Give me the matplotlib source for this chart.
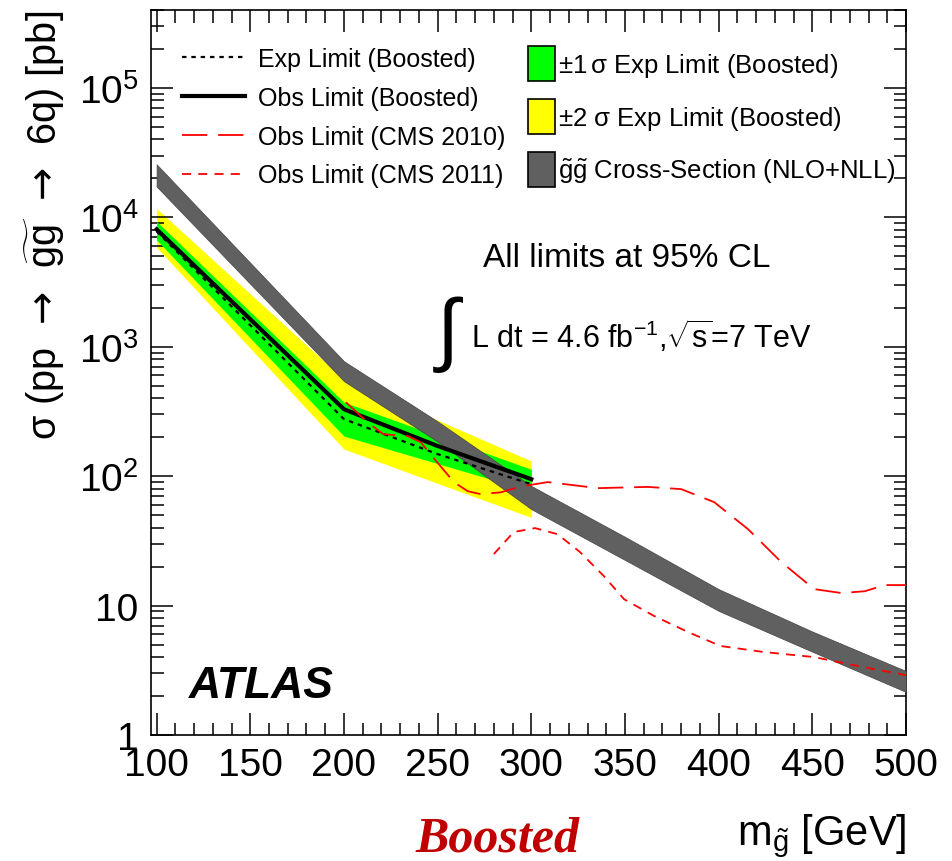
import matplotlib
matplotlib.use("Agg")
import matplotlib.pyplot as plt
from matplotlib.lines import Line2D
from matplotlib.patches import Patch
from matplotlib.ticker import MultipleLocator, LogLocator, FixedLocator, FixedFormatter, NullFormatter

plt.rcParams['font.family'] = ['Liberation Sans', 'DejaVu Sans']
plt.rcParams['mathtext.fontset'] = 'custom'
plt.rcParams['mathtext.rm'] = 'Liberation Sans'
plt.rcParams['mathtext.it'] = 'Liberation Sans:italic'
plt.rcParams['mathtext.bf'] = 'Liberation Sans:bold'
plt.rcParams['mathtext.sf'] = 'DejaVu Sans'

# gluino pair cross-section band (NLO+NLL)
mass_xs = [100, 200, 250, 300, 350, 400, 450, 500]
xs_hi = [25700, 773, 265, 84, 34, 13.4, 6.3, 3.12]
xs_lo = [17300, 542, 185, 55.6, 22.5, 9.1, 4.4, 2.15]

# boosted limits
mass_lim = [100, 200, 250, 300]
obs_lim = [8080, 329, 171, 94.8]
exp_lim = [7800, 276, 148, 86.7]
sig1_hi = [9310, 373, 205, 113]
sig1_lo = [6680, 204, 125, 76.6]
sig2_hi = [11700, 561, 271, 131]
sig2_lo = [5850, 162, 88, 48]

# CMS limits
cms10_m = [201, 212.6, 221, 234, 241, 251.6, 258.7, 266, 273, 283.7, 294, 308.8,
           335.5, 362, 380, 397.6, 415.7, 433.4, 451, 465.5, 478, 488.5, 500]
cms10_y = [373, 261, 211, 204, 183, 119, 90, 76.6, 72.6, 75, 83, 90,
           80.8, 82.6, 79.4, 63, 38.9, 21.7, 13.4, 12.5, 12.9, 14.4, 14.4]
cms11_m = [280, 290.6, 302, 314, 326, 338.7, 349.5, 365.6, 383.7, 401, 424.4, 451, 469, 500]
cms11_y = [25, 37, 39.7, 35.6, 25.9, 16.9, 11.2, 8.3, 6.24, 4.87, 4.37, 4.0, 3.53, 2.9]

ytick_vals = [1, 10, 100, 1e3, 1e4, 1e5]
ytick_labels = ['1', '10', '$10^2$', '$10^3$', '$10^4$', '$10^5$']

fig = plt.figure(figsize=(9.52, 8.62), dpi=100)
ax = fig.add_axes([0.1586, 0.1462, 0.7931, 0.8410])
ax.set_yscale('log')
ax.set_xlim(97, 500)
ax.set_ylim(1, 4e5)

ax.fill_between(mass_lim, sig2_lo, sig2_hi, color='#ffff00', lw=0, zorder=1)
ax.fill_between(mass_lim, sig1_lo, sig1_hi, color='#00ff00', lw=0, zorder=2)
ax.fill_between(mass_xs, xs_lo, xs_hi, color='#606060', lw=0.5, edgecolor='#444444', zorder=3)
ax.plot(mass_lim, obs_lim, color='black', lw=3, zorder=4)
ax.plot(mass_lim, exp_lim, color='black', lw=1.6, dashes=(2, 2.2), zorder=4)
ax.plot(cms10_m, cms10_y, color='red', lw=1.3, dashes=(14, 6), zorder=5)
ax.plot(cms11_m, cms11_y, color='red', lw=1.3, dashes=(5, 4), zorder=5)

# ticks
ax.xaxis.set_major_locator(MultipleLocator(50))
ax.xaxis.set_minor_locator(MultipleLocator(10))
ax.yaxis.set_major_locator(FixedLocator(ytick_vals))
ax.yaxis.set_major_formatter(FixedFormatter(ytick_labels))
ax.yaxis.set_minor_locator(LogLocator(base=10, subs=range(2, 10)))
ax.yaxis.set_minor_formatter(NullFormatter())
ax.tick_params(which='both', direction='in', top=True, right=True, width=1.1, labelsize=28)
ax.tick_params(which='major', length=16)
ax.tick_params(which='minor', length=9)
ax.tick_params(axis='x', pad=9)
ax.tick_params(axis='y', pad=9)
for s in ax.spines.values():
    s.set_linewidth(1.2)

ax.set_ylabel(r'$\mathregular{\sigma}$ (pp $\,\mathsf{\rightarrow}\,$ $\widetilde{\mathregular{gg}}$ '
              r'$\,\mathsf{\rightarrow}\,$ 6q) [pb]',
              fontsize=28.5, loc='top', labelpad=8)
ax.set_xlabel(r'm$_{\tilde{\mathregular{g}}}$ [GeV]', fontsize=30, loc='right', labelpad=20)

# legends
h1 = [Line2D([], [], color='black', lw=1.6, dashes=(2, 2.2)),
      Line2D([], [], color='black', lw=3),
      Line2D([], [], color='red', lw=1.3, dashes=(14, 6)),
      Line2D([], [], color='red', lw=1.3, dashes=(5, 4))]
l1 = ['Exp Limit (Boosted)', 'Obs Limit (Boosted)', 'Obs Limit (CMS 2010)', 'Obs Limit (CMS 2011)']
leg1 = ax.legend(h1, l1, loc='upper left', bbox_to_anchor=(0.041, 0.949), frameon=False,
                 fontsize=18, handlelength=2.52, handletextpad=0.52, labelspacing=0.59,
                 borderpad=0, borderaxespad=0)
ax.add_artist(leg1)
h2 = [Patch(facecolor='#00ff00', edgecolor='black', lw=1.2),
      Patch(facecolor='#ffff00', edgecolor='black', lw=1.2),
      Patch(facecolor='#606060', edgecolor='black', lw=1.2)]
l2 = [r'$\pm$1$\,\mathregular{\sigma}$ Exp Limit (Boosted)',
      r'$\pm$2 $\mathregular{\sigma}$ Exp Limit (Boosted)',
      r'$\tilde{\mathregular{g}}\tilde{\mathregular{g}}$ Cross-Section (NLO+NLL)']
ax.legend(h2, l2, loc='upper left', bbox_to_anchor=(0.4993, 0.950), frameon=False,
          fontsize=18.5, handlelength=1.05, handleheight=1.72, handletextpad=0.12,
          labelspacing=0.7, borderpad=0, borderaxespad=0)

ax.text(0.44, 0.647, 'All limits at 95% CL', transform=ax.transAxes, fontsize=24, va='baseline')
ax.text(0.378, 0.524, '\u222b', transform=ax.transAxes, fontsize=58, va='baseline')
ax.text(0.424, 0.535, r'L dt = 4.6 fb$^{\mathregular{-1}}$,$\sqrt{\mathregular{s}}$=7 TeV',
        transform=ax.transAxes, fontsize=22, va='baseline')
ax.text(0.05, 0.052, 'ATLAS', transform=ax.transAxes, fontsize=32, fontweight='bold',
        fontstyle='italic', va='baseline')

fig.text(0.436, 0.012, 'Boosted', fontsize=36, color='#c00000', fontweight='bold',
         fontstyle='italic', family='Liberation Serif')

fig.savefig('out.png', dpi=100)
